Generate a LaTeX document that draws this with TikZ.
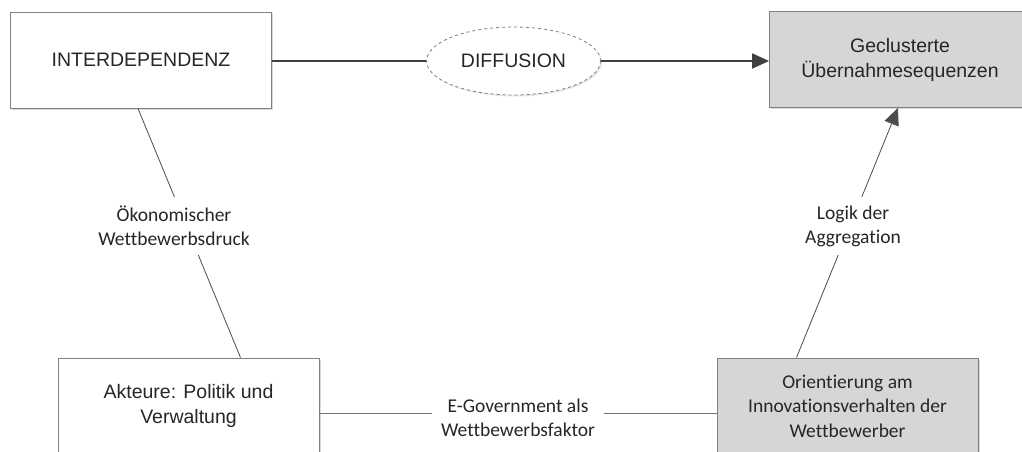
\documentclass[tikz,border=0pt]{standalone}
\usepackage{fontspec}
\setmainfont{Liberation Sans}
\newfontfamily\labelfont[Ligatures=NoCommon]{Carlito}
\usetikzlibrary{shapes.geometric,shadows,arrows.meta}
\definecolor{boxgray}{HTML}{D6D6D6}
\definecolor{edgegray}{HTML}{7F7F7F}
\definecolor{linedark}{HTML}{404040}
\tikzset{
  boxnode/.style={draw=edgegray, line width=0.9pt, fill=white, minimum width=261pt, minimum height=96pt,
    align=center, font=\fontsize{19.5}{25}\selectfont, inner sep=0pt, text=black!85,
    drop shadow={shadow xshift=1.5pt, shadow yshift=-1.5pt, fill=black!14, opacity=1}},
  graybox/.style={boxnode, fill=boxgray},
  ellnode/.style={ellipse, draw=edgegray, dashed, line width=0.8pt, fill=white, minimum width=174pt, minimum height=68pt,
    font=\fontsize{19.5}{25}\selectfont, inner sep=0pt, text=black!85,
    drop shadow={shadow xshift=1.5pt, shadow yshift=-1.5pt, fill=black!10, opacity=1}},
  lbl/.style={fill=white, align=center, font=\labelfont\fontsize{19.5}{24}\selectfont, inner sep=9pt, text=black!85},
  thickline/.style={draw=linedark, line width=2pt},
  thinline/.style={draw=black!70, line width=0.8pt},
  bigtip/.style={-{Triangle[length=17pt,width=15pt]}},
}
\begin{document}
\begin{tikzpicture}[x=1pt,y=-1pt]
\useasboundingbox (0,0) rectangle (1022,452);
\node[boxnode] (inter) at (141,60) {INTERDEPENDENZ};
\node[graybox] (gecl) at (900,59.5) {Geclusterte\\Übernahmesequenzen};
\node[ellnode] (diff) at (513.5,61) {DIFFUSION};
\node[boxnode] (akt) at (188.5,406) {Akteure: Politik und\\Verwaltung};
\node[graybox, font=\labelfont\fontsize{19.5}{24.5}\selectfont] (orient) at (847.5,406) {Orientierung am\\Innovationsverhalten der\\Wettbewerber};

\draw[thickline] (inter.east |- diff.west) -- (diff.west);
\draw[thickline, bigtip] (diff.east) -- (diff.east -| gecl.west);

\draw[thinline] ([xshift=-3pt]inter.south) -- ([xshift=52pt]akt.north);
\draw[thinline, bigtip] ([xshift=-51pt]orient.north) -- ([xshift=-2pt]gecl.south);
\draw[thinline, draw=black!55] ([yshift=-7pt]akt.east) -- ([yshift=-7pt]orient.west);

\node[lbl] (l1) at (174,226) {Ökonomischer\\Wettbewerbsdruck};
\node[lbl] (l2) at (853,226) {Logik der\\Aggregation};
\node[lbl] (l3) at (518,418) {E-Government als\\Wettbewerbsfaktor};
\end{tikzpicture}
\end{document}
